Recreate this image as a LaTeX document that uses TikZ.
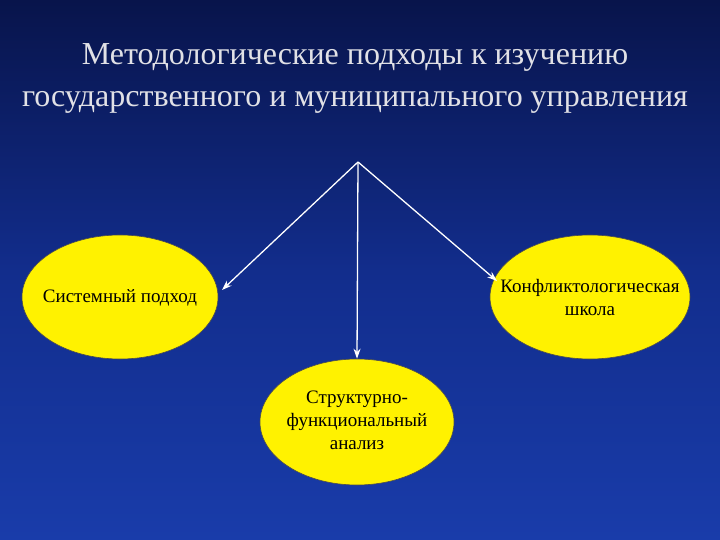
\documentclass[tikz,border=0pt]{standalone}
\usepackage{fontspec}
\setmainfont{Liberation Serif}
\usetikzlibrary{shapes.geometric,arrows.meta}
\begin{document}
\begin{tikzpicture}[x=1pt,y=-1pt,
  oval/.style={ellipse,draw=black!70,fill=yellow,line width=0.6pt,inner sep=0pt},
  lbl/.style={font=\fontsize{19}{23}\selectfont,align=center,inner sep=0pt},
  conn/.style={draw=white,line width=1.3pt,-{Stealth[length=10pt,width=7pt]}}]
\useasboundingbox (0,0) rectangle (720,540);
\shade[top color={rgb,255:red,8;green,20;blue,75},bottom color={rgb,255:red,25;green,60;blue,170},middle color={rgb,255:red,18;green,45;blue,140}] (0,0) rectangle (720,540);
\node[text={rgb,255:red,225;green,225;blue,230},align=center,font=\fontsize{32}{42}\selectfont] (title) at (355,78) {Методологические подходы к изучению\\государственного и муниципального управления};
\node[oval,minimum width=196pt,minimum height=124pt] (sys) at (120,297) {};
\node[lbl] (sysl) at (120,298) {Системный подход};
\node[oval,minimum width=200pt,minimum height=124pt] (conf) at (590,297) {};
\node[lbl] (confl) at (590,298) {Конфликтологическая\\школа};
\node[oval,minimum width=194pt,minimum height=126pt] (str) at (357,422) {};
\node[lbl] (strl) at (357,420) {Структурно-\\функциональный\\анализ};
\coordinate (top) at (358,162);
\draw[conn] (top) -- (222,290);
\draw[conn] (top) -- (str.north);
\draw[conn] (top) -- (497,281);
\end{tikzpicture}
\end{document}
